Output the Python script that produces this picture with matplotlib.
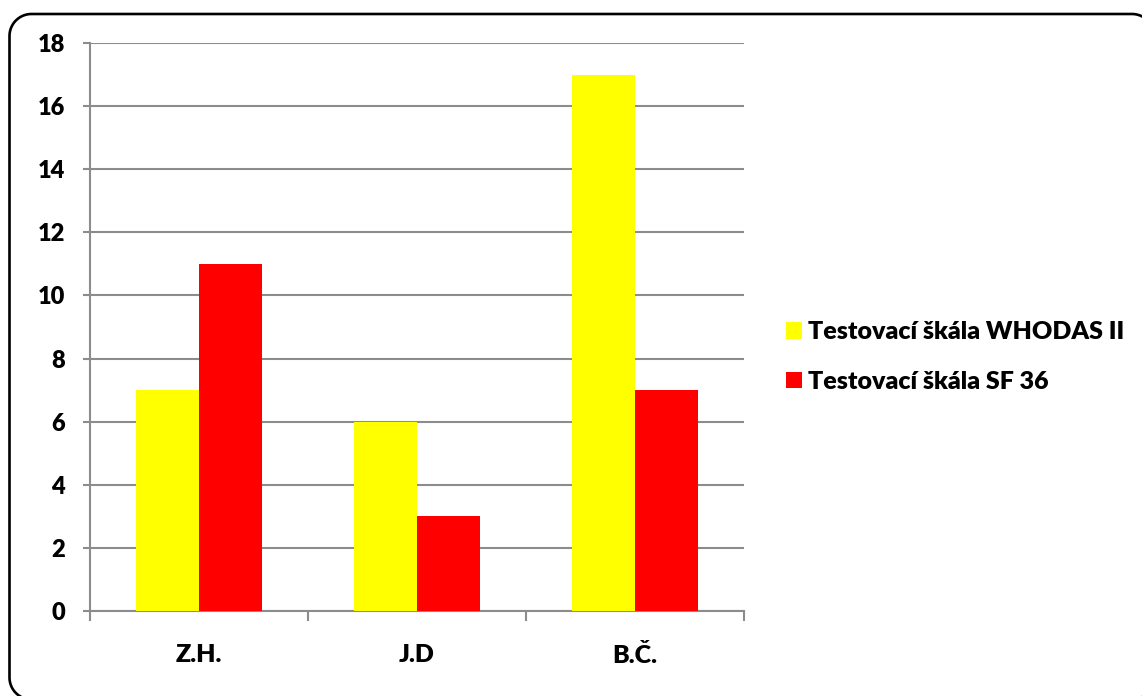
import matplotlib
matplotlib.use("Agg")
import matplotlib.pyplot as plt
import numpy as np
from matplotlib.patches import Patch

plt.rcParams["savefig.bbox"] = "standard"

categories = ["Z.H.", "J.D", "B.Č."]
whodas = [7, 6, 17]
sf36 = [11, 3, 7]
series_names = ["Testovací škála WHODAS II", "Testovací škála SF 36"]
yticks = [0, 2, 4, 6, 8, 10, 12, 14, 16, 18]

W, H = 1142, 696
fig = plt.figure(figsize=(W / 100, H / 100), dpi=100)
fig.patch.set_facecolor("white")

font = "Lato"
weight = "heavy"
grid_c = "#8c8c8c"

# background axes in pixel units (y downwards) for the rounded frame
bg = fig.add_axes([0, 0, 1, 1], zorder=-1)
bg.set_xlim(0, W)
bg.set_ylim(H, 0)
bg.axis("off")
fx0, fyt, fx1, fyb, r = 9.5, 14.0, 1154.0, 699.5, 22.0
corners = [((fx0 + r, fyb - r), 90, 180), ((fx0 + r, fyt + r), 180, 270),
           ((fx1 - r, fyt + r), 270, 360), ((fx1 - r, fyb - r), 0, 90)]
px, py = [], []
for (cx, cy), a0, a1 in corners:
    th = np.radians(np.linspace(a0, a1, 30))
    px.extend(cx + r * np.cos(th))
    py.extend(cy + r * np.sin(th))
px.append(px[0]); py.append(py[0])
px = np.array(px); py = np.array(py)
keep = (px <= W + 3) & (py <= H + 3)
# draw only contiguous visible run (start from bottom-left, go round to top-right)
idx = np.where(keep)[0]
bg.plot(px[idx[0]:idx[-1] + 1][keep[idx[0]:idx[-1] + 1]],
        py[idx[0]:idx[-1] + 1][keep[idx[0]:idx[-1] + 1]],
        color="black", linewidth=1.9, solid_capstyle="butt")

ax = fig.add_axes([90 / W, 1 - 611 / H, (744 - 90) / W, (611 - 43) / H])
x = np.arange(len(categories))
bw = 0.287
ax.bar(x - bw / 2, whodas, bw, color="#ffff00", label=series_names[0], zorder=3)
ax.bar(x + bw / 2, sf36, bw, color="#ff0000", label=series_names[1], zorder=3)

ax.set_xlim(-0.5, len(categories) - 0.5)
ax.set_ylim(0, 18)
ax.set_yticks(yticks)
ax.set_yticklabels([str(t) for t in yticks], fontfamily=font, fontweight=weight, fontsize=17)
ax.yaxis.grid(True, color=grid_c, linewidth=1.5, zorder=0)
ax.set_axisbelow(True)

ax.set_xticks(x)
ax.set_xticklabels(categories, fontfamily=font, fontweight=weight, fontsize=18)
ax.tick_params(axis="x", length=0, pad=24)
ax.set_xticks(np.arange(-0.5, len(categories), 1.0), minor=True)
ax.tick_params(axis="x", which="minor", length=7, width=1.5, color=grid_c, direction="out")
ax.tick_params(axis="y", length=5, width=1.5, color=grid_c, direction="out", pad=13)

for s in ["top", "right"]:
    ax.spines[s].set_visible(False)
for s in ["left", "bottom"]:
    ax.spines[s].set_color(grid_c)
    ax.spines[s].set_linewidth(1.5)

handles = [Patch(facecolor="#ffff00"), Patch(facecolor="#ff0000")]
leg = fig.legend(handles, series_names, loc="center left",
                 bbox_to_anchor=(786 / W, 1 - 357 / H), frameon=False,
                 prop={"family": font, "weight": weight, "size": 18},
                 handlelength=0.64, handleheight=0.64, handletextpad=0.25,
                 labelspacing=1.1, borderpad=0, borderaxespad=0)

fig.savefig("out.png", dpi=100, bbox_inches=None)
